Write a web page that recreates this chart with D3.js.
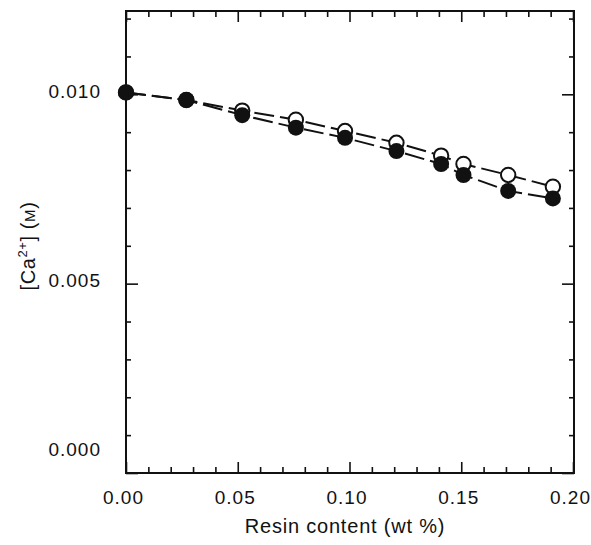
<!DOCTYPE html>
<html><head><meta charset="utf-8">
<script src="https://cdn.jsdelivr.net/npm/d3@7"></script>
<style>
html,body{margin:0;padding:0;background:#fff;}
svg{display:block;}
text{font-family:"Liberation Sans",Arial,Helvetica,sans-serif;fill:#111;}
</style></head>
<body><svg id="chart" width="591" height="545"></svg>
<script>
// Data
const resin = [0.0, 0.027, 0.052, 0.076, 0.098, 0.121, 0.141, 0.151, 0.171, 0.191];
const caFilled = [0.01005, 0.00985, 0.00945, 0.00912, 0.00885, 0.00850, 0.00816, 0.00787, 0.00745, 0.00725];
const caOpen   = [0.01005, 0.00985, 0.00957, 0.00933, 0.00903, 0.00872, 0.00838, 0.00816, 0.00787, 0.00756];
const xMajor = [0.00, 0.05, 0.10, 0.15, 0.20];
const xMajorLabels = ["0.00", "0.05", "0.10", "0.15", "0.20"];
const xMinor = [0.01, 0.02, 0.03, 0.04, 0.06, 0.07, 0.08, 0.09, 0.11, 0.12, 0.13, 0.14, 0.16, 0.17, 0.18, 0.19];
const yMajor = [0.000, 0.005, 0.010];
const yMajorLabels = ["0.000", "0.005", "0.010"];
const yMinor = [0.001, 0.002, 0.003, 0.004, 0.006, 0.007, 0.008, 0.009, 0.011, 0.012];

const L = 126, R = 574, T = 11, B = 473;
const svg = d3.select("#chart");
const x = d3.scaleLinear().domain([0, 0.20]).range([L, R - 1]);
const y = d3.scaleLinear().domain([0, 0.0122]).range([B, T]);

function styleAxis(g) {
  g.select(".domain").remove();
  g.selectAll(".tick line").attr("stroke", "#111").attr("stroke-width", 1.6);
}
// minor ticks (inward)
svg.append("g").attr("transform", `translate(0,${B})`)
  .call(d3.axisBottom(x).tickValues(xMinor).tickSize(-6).tickFormat(""))
  .call(styleAxis);
svg.append("g").attr("transform", `translate(0,${T})`)
  .call(d3.axisTop(x).tickValues(xMinor).tickSize(-6).tickFormat(""))
  .call(styleAxis);
svg.append("g").attr("transform", `translate(${L},0)`)
  .call(d3.axisLeft(y).tickValues(yMinor).tickSize(-5).tickFormat(""))
  .call(styleAxis);
svg.append("g").attr("transform", `translate(${R},0)`)
  .call(d3.axisRight(y).tickValues(yMinor).tickSize(-5).tickFormat(""))
  .call(styleAxis);
// major ticks
const xb = svg.append("g").attr("transform", `translate(0,${B})`)
  .call(d3.axisBottom(x).tickValues(xMajor).tickSize(-11).tickPadding(18)
    .tickFormat((d, i) => xMajorLabels[i]))
  .call(styleAxis);
xb.selectAll("text").attr("font-size", 19).attr("letter-spacing", "1px").attr("dx", "-3");
svg.append("g").attr("transform", `translate(0,${T})`)
  .call(d3.axisTop(x).tickValues(xMajor).tickSize(-11).tickFormat(""))
  .call(styleAxis);
const yl = svg.append("g").attr("transform", `translate(${L},0)`)
  .call(d3.axisLeft(y).tickValues(yMajor).tickSize(-12).tickPadding(25)
    .tickFormat((d, i) => yMajorLabels[i]))
  .call(styleAxis);
yl.selectAll("text").attr("font-size", 19).attr("letter-spacing", "1px")
  .attr("dy", (d) => d === 0 ? "-0.9em" : "0.15em");
svg.append("g").attr("transform", `translate(${R},0)`)
  .call(d3.axisRight(y).tickValues(yMajor).tickSize(-12).tickFormat(""))
  .call(styleAxis);

// frame
svg.append("rect").attr("x", L).attr("y", T).attr("width", R - L).attr("height", B - T)
  .attr("fill", "none").attr("stroke", "#111").attr("stroke-width", 2);

// lines
const line = d3.line().x(d => x(d[0])).y(d => y(d[1]));
[caOpen, caFilled].forEach(s => {
  svg.append("path").datum(resin.map((r, i) => [r, s[i]]))
    .attr("d", line).attr("fill", "none").attr("stroke", "#111")
    .attr("stroke-width", 2).attr("stroke-dasharray", "20,6");
});
// markers
svg.append("g").selectAll("circle").data(resin.map((r, i) => [r, caOpen[i]])).join("circle")
  .attr("cx", d => x(d[0])).attr("cy", d => y(d[1])).attr("r", 7.2)
  .attr("fill", "#fff").attr("stroke", "#111").attr("stroke-width", 2);
svg.append("g").selectAll("circle").data(resin.map((r, i) => [r, caFilled[i]])).join("circle")
  .attr("cx", d => x(d[0])).attr("cy", d => y(d[1])).attr("r", 8)
  .attr("fill", "#111");

// axis titles
svg.append("text").attr("x", (L + R) / 2 - 5).attr("y", 533).attr("text-anchor", "middle")
  .attr("font-size", 20).attr("letter-spacing", "0.8px").text("Resin content (wt %)");
const yt = svg.append("text").attr("transform", `translate(35,${246}) rotate(-90)`)
  .attr("text-anchor", "middle").attr("font-size", 20).attr("letter-spacing", "0.6px");
yt.append("tspan").text("[Ca");
yt.append("tspan").attr("font-size", 13).attr("dy", "-8").text("2+");
yt.append("tspan").attr("dy", "8").text("] (");
yt.append("tspan").attr("font-size", 15).text("M");
yt.append("tspan").text(")");
</script></body></html>
